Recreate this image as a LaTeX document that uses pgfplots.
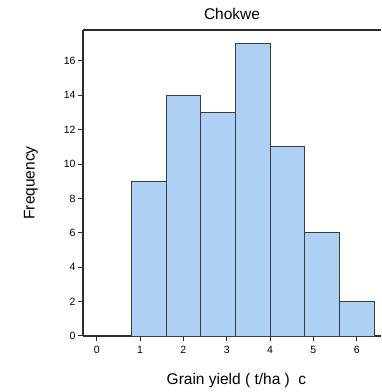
\documentclass[border=0pt]{standalone}
\usepackage{pgfplots}
\pgfplotsset{compat=1.18}
\usepackage{fontspec}
\setmainfont{Liberation Sans}
\definecolor{barblue}{RGB}{174,208,245}
\definecolor{spine}{RGB}{45,45,45}
\definecolor{baredge}{RGB}{60,60,60}
\begin{document}
\begin{tikzpicture}
\begin{axis}[
  scale only axis,
  width=298pt, height=306pt,
  xmin=-0.316, xmax=6.56,
  ymin=0, ymax=17.8,
  axis x line*=box,
  axis y line*=left,
  axis line style={spine, line width=1.2pt},
  xtick={0,1,2,3,4,5,6},
  ytick={0,2,4,6,8,10,12,14,16},
  xtick pos=bottom,
  ytick pos=left,
  tick align=outside,
  major tick length=5pt,
  tick style={spine, line width=1pt},
  /pgf/number format/assume math mode=true,
  tick label style={font=\fontsize{10.5}{12}\selectfont, text=black},
  xticklabel style={yshift=-2pt},
  yticklabel style={xshift=1pt},
  every axis title shift=0pt,
  title={Chokwe},
  title style={font=\fontsize{15.5}{17}\selectfont, at={(axis description cs:0.5,1.054)}, anchor=center},
  xlabel={Grain yield ( t/ha )\ \ c},
  xlabel style={font=\fontsize{15.5}{17}\selectfont, at={(axis description cs:0.515,-0.144)}, anchor=center},
  ylabel={Frequency},
  ylabel style={font=\fontsize{15.5}{17}\selectfont, at={(axis description cs:-0.175,0.5)}, anchor=center},
  clip=false,
]
\addplot[ybar interval, fill=barblue, draw=baredge, line width=0.8pt]
  coordinates {(0.8,9) (1.6,14) (2.4,13) (3.2,17) (4.0,11) (4.8,6) (5.6,2) (6.4,2)};
\end{axis}
\pgfresetboundingbox
\path (current axis.south west) ++(-83pt,-56pt) rectangle ([yshift=30pt]current axis.north east);
\end{tikzpicture}
\end{document}
